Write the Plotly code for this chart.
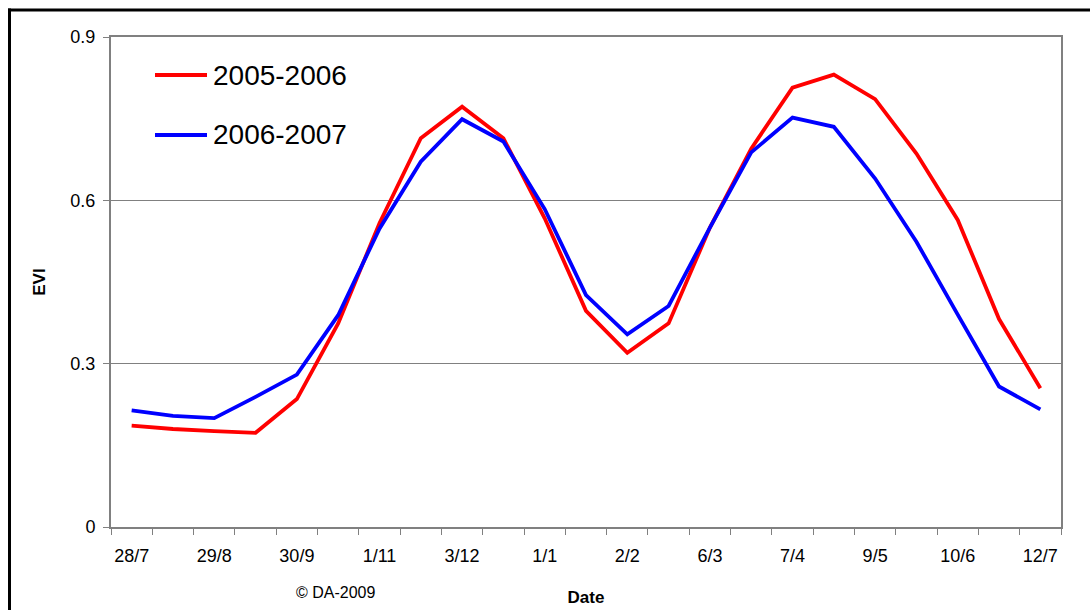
import plotly.graph_objects as go

# ---- data ----
tick_labels = ["28/7", "29/8", "30/9", "1/11", "3/12", "1/1", "2/2",
               "6/3", "7/4", "9/5", "10/6", "12/7"]
series_names = ["2005-2006", "2006-2007"]
evi_2005_2006 = [0.186, 0.180, 0.176, 0.173, 0.235, 0.374, 0.558, 0.714,
                 0.772, 0.714, 0.567, 0.397, 0.320, 0.374, 0.550, 0.695,
                 0.807, 0.831, 0.786, 0.686, 0.564, 0.382, 0.255]
evi_2006_2007 = [0.214, 0.204, 0.200, 0.239, 0.280, 0.389, 0.548, 0.671,
                 0.749, 0.708, 0.584, 0.426, 0.354, 0.406, 0.550, 0.688,
                 0.752, 0.735, 0.640, 0.524, 0.390, 0.258, 0.216]
y_ticks = [0, 0.3, 0.6, 0.9]

colors = ["#FF0000", "#0000FF"]
n = len(evi_2005_2006)
x_idx = list(range(n))
label_pos = list(range(0, n, 2))
boundaries = [i - 0.5 for i in range(n + 1)]

FONT = "Arial, Liberation Sans, Helvetica, sans-serif"
GRAY = "#808080"

fig = go.Figure()
for name, vals, col in zip(series_names, [evi_2005_2006, evi_2006_2007], colors):
    fig.add_trace(go.Scatter(x=x_idx, y=vals, mode="lines", name=name,
                             line=dict(color=col, width=3.8), showlegend=False,
                             hoverinfo="skip"))

W, H = 1090, 610
L, R, T, B = 111, 1061, 37, 527

def px(xp):
    return (xp - L) / (R - L)

def py(yp):
    return (B - yp) / (B - T)

shapes = []
annotations = []
# manual legend
for i, (name, col) in enumerate(zip(series_names, colors)):
    yy = py(75 + 60 * i)
    shapes.append(dict(type="line", xref="paper", yref="paper",
                       x0=px(155), x1=px(207), y0=yy, y1=yy,
                       line=dict(color=col, width=4)))
    annotations.append(dict(text=name, xref="paper", yref="paper",
                            x=px(211), y=yy, xanchor="left", yanchor="middle",
                            showarrow=False, font=dict(size=28, color="black", family=FONT)))

# outer black border (top and left)
shapes.append(dict(type="line", xref="paper", yref="paper",
                   x0=px(8), x1=px(1095), y0=py(10), y1=py(10),
                   line=dict(color="black", width=3)))
shapes.append(dict(type="line", xref="paper", yref="paper",
                   x0=px(9.5), x1=px(9.5), y0=py(8.5), y1=py(615),
                   line=dict(color="black", width=3)))

annotations.append(dict(text="© DA-2009", xref="paper", yref="paper",
                        x=px(335), y=py(592), xanchor="center", yanchor="middle",
                        showarrow=False, font=dict(size=16, color="black", family=FONT)))

fig.update_layout(
    width=W, height=H, autosize=False,
    margin=dict(l=L, r=W - R, t=T, b=H - B, autoexpand=False),
    paper_bgcolor="white", plot_bgcolor="white",
    font=dict(family=FONT, color="black", size=16),
    shapes=shapes, annotations=annotations,
    showlegend=False, hovermode=False,
    xaxis=dict(range=[-0.5, n - 0.5], tickmode="array", automargin=False,
               tickvals=label_pos, ticktext=tick_labels,
               ticks="", showgrid=False, zeroline=False,
               showline=True, linecolor=GRAY, linewidth=2, mirror=True,
               tickfont=dict(size=18, family=FONT), ticklabelstandoff=11,
               minor=dict(tickmode="array", tickvals=boundaries, ticks="outside",
                          ticklen=6, tickcolor=GRAY, tickwidth=1, showgrid=False),
               title=dict(text="<b>Date</b>", font=dict(size=17, family=FONT), standoff=27)),
    yaxis=dict(range=[0, 0.9], tickmode="array", tickvals=y_ticks, automargin=False,
               ticktext=["0", "0.3", "0.6", "0.9"],
               ticks="outside", ticklen=6, tickcolor=GRAY, tickwidth=1,
               showgrid=True, gridcolor=GRAY, gridwidth=1, zeroline=False,
               showline=True, linecolor=GRAY, linewidth=2, mirror=True,
               tickfont=dict(size=18, family=FONT), ticklabelstandoff=4,
               title=dict(text="<b>EVI</b>", font=dict(size=17, family=FONT), standoff=20)),
)

fig.write_html("out.html", config={"displayModeBar": False},
               post_script="document.body.style.margin='0';document.body.style.overflow='hidden';")
